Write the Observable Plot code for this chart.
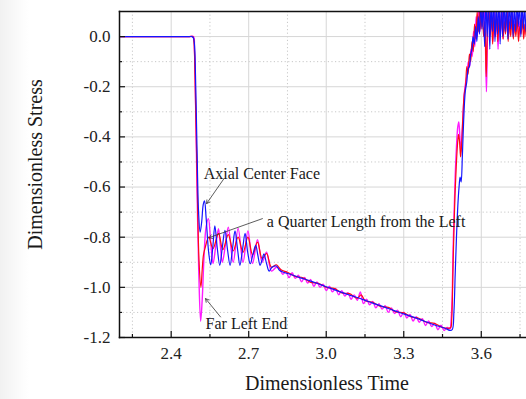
<!DOCTYPE html>
<html>
<head>
<meta charset="utf-8">
<script src="https://cdn.jsdelivr.net/npm/d3@7"></script>
<script src="https://cdn.jsdelivr.net/npm/@observablehq/plot@0.6"></script>
<style>
  html, body { margin: 0; padding: 0; }
  body { width: 526px; height: 399px; overflow: hidden;
    background: linear-gradient(to right, #f1f1f1 0px, #f6f6f6 10px, #fdfdfd 24px, #ffffff 30px); }
</style>
</head>
<body>
<div id="chart"></div>
<script>
// ---- tick values ----
const majorX = [2.4, 2.7, 3.0, 3.3, 3.6];
const minorX = [2.25, 2.55, 2.85, 3.15, 3.45, 3.75];
const majorY = [0, -0.2, -0.4, -0.6, -0.8, -1.0, -1.2];
const minorY = [-0.1, -0.3, -0.5, -0.7, -0.9, -1.1];

// ---- Axial Center Face (blue) ----
const blueT = [2.20, 2.40, 2.47, 2.48, 2.486, 2.490, 2.494, 2.500, 2.506, 2.512, 2.518, 2.524, 2.529, 2.535, 2.545, 2.553,
  2.561, 2.569, 2.578, 2.588, 2.598, 2.608, 2.618, 2.628, 2.638, 2.647, 2.657, 2.666, 2.676, 2.686, 2.696,
  2.706, 2.716, 2.727, 2.735, 2.744, 2.752, 2.759, 2.769, 2.779, 2.790, 2.807, 2.820, 2.860, 2.900, 2.940,
  2.980, 3.020, 3.060, 3.100, 3.140, 3.180, 3.220, 3.260, 3.300, 3.340, 3.380, 3.420, 3.460, 3.480, 3.488,
  3.494, 3.499, 3.504, 3.509, 3.514, 3.518, 3.522, 3.527, 3.532, 3.538, 3.544, 3.549, 3.554, 3.559, 3.564,
  3.568, 3.573, 3.578, 3.583, 3.588, 3.593, 3.598, 3.603, 3.608, 3.613, 3.618, 3.623, 3.628, 3.633, 3.638,
  3.643, 3.648, 3.653, 3.658, 3.663, 3.668, 3.673, 3.678, 3.683, 3.688, 3.693, 3.698, 3.703, 3.708, 3.713,
  3.718, 3.723, 3.728, 3.733, 3.738, 3.743, 3.748, 3.753, 3.758, 3.763, 3.768, 3.773, 3.778];
const blueV = [0, 0, 0, 0, -0.005, -0.03, -0.15, -0.45, -0.70, -0.78, -0.74, -0.67, -0.655, -0.72, -0.86, -0.91,
  -0.84, -0.755, -0.84, -0.912, -0.84, -0.773, -0.85, -0.912, -0.84, -0.775, -0.85, -0.912, -0.85, -0.785, -0.86,
  -0.906, -0.87, -0.833, -0.87, -0.912, -0.89, -0.866, -0.905, -0.935, -0.92, -0.915, -0.933, -0.948, -0.962, -0.975,
  -0.990, -1.005, -1.020, -1.034, -1.048, -1.063, -1.077, -1.092, -1.106, -1.120, -1.135, -1.150, -1.163, -1.172, -1.168,
  -1.10, -0.95, -0.80, -0.68, -0.60, -0.56, -0.58, -0.47, -0.33, -0.22, -0.18, -0.13, -0.12, -0.07, -0.05,
  0.0, -0.03, 0.04, -0.02, 0.08, 0.01, 0.13, 0.03, 0.14, -0.04, 0.14, 0.0, 0.15, -0.05, 0.14,
  0.02, 0.15, -0.02, 0.13, 0.01, 0.15, -0.03, 0.14, 0.0, 0.15, 0.02, 0.13, -0.01, 0.14, 0.03,
  0.15, 0.0, 0.12, 0.02, 0.15, 0.04, 0.13, 0.0, 0.14, 0.03, 0.12, 0.02, 0.11];

// ---- a Quarter Length from the Left (red) ----
const redT = [2.20, 2.40, 2.47, 2.484, 2.488, 2.492, 2.500, 2.508, 2.515, 2.520, 2.525, 2.532, 2.545, 2.562, 2.583, 2.600,
  2.621, 2.640, 2.659, 2.678, 2.697, 2.715, 2.734, 2.752, 2.769, 2.788, 2.807, 2.825, 2.850, 2.880, 2.910,
  2.940, 2.970, 3.000, 3.030, 3.060, 3.090, 3.120, 3.135, 3.150, 3.180, 3.210, 3.240, 3.270, 3.300, 3.330,
  3.360, 3.390, 3.420, 3.450, 3.475, 3.482, 3.486, 3.490, 3.494, 3.498, 3.503, 3.508, 3.512, 3.516, 3.520,
  3.524, 3.529, 3.534, 3.539, 3.544, 3.549, 3.554, 3.559, 3.564, 3.569, 3.574, 3.579, 3.584, 3.589, 3.594,
  3.599, 3.604, 3.609, 3.614, 3.619, 3.624, 3.629, 3.634, 3.639, 3.644, 3.649, 3.654, 3.659, 3.664, 3.669,
  3.674, 3.679, 3.684, 3.689, 3.694, 3.699, 3.704, 3.709, 3.714, 3.719, 3.724, 3.729, 3.734, 3.739, 3.744,
  3.749, 3.754, 3.759, 3.764, 3.769, 3.774, 3.778];
const redV = [0, 0, 0, 0, -0.02, -0.15, -0.55, -0.90, -1.0, -0.93, -0.87, -0.84, -0.80, -0.845, -0.785, -0.85,
  -0.79, -0.855, -0.80, -0.86, -0.80, -0.87, -0.82, -0.885, -0.865, -0.92, -0.91, -0.930, -0.940, -0.956, -0.962,
  -0.980, -0.984, -1.000, -1.004, -1.022, -1.025, -1.044, -1.030, -1.052, -1.060, -1.076, -1.080, -1.098, -1.102, -1.118,
  -1.124, -1.140, -1.144, -1.160, -1.163, -1.160, -1.12, -0.95, -0.78, -0.64, -0.52, -0.43, -0.39, -0.42, -0.48,
  -0.43, -0.32, -0.23, -0.20, -0.12, -0.15, -0.07, -0.10, -0.02, -0.06, 0.05, -0.01, 0.10, 0.02, 0.12,
  0.03, 0.10, 0.0, 0.06, -0.16, 0.04, 0.12, 0.0, 0.09, -0.03, 0.08, 0.0, 0.11, -0.02, 0.07,
  0.02, 0.10, -0.01, 0.06, 0.01, 0.12, -0.02, 0.06, 0.0, 0.09, -0.01, 0.05, 0.0, 0.08, -0.02,
  0.04, 0.01, 0.07, -0.01, 0.05, 0.0, 0.04];

// ---- Far Left End (magenta) ----
const magT = [2.20, 2.40, 2.47, 2.486, 2.490, 2.495, 2.500, 2.507, 2.514, 2.520, 2.527, 2.535, 2.544, 2.553, 2.562, 2.572,
  2.583, 2.590, 2.598, 2.610, 2.621, 2.640, 2.659, 2.678, 2.697, 2.715, 2.734, 2.752, 2.769, 2.788, 2.807,
  2.820, 2.832, 2.844, 2.856, 2.868, 2.880, 2.892, 2.904, 2.916, 2.928, 2.940, 2.952, 2.964, 2.976, 2.988,
  3.000, 3.012, 3.024, 3.036, 3.048, 3.060, 3.072, 3.084, 3.096, 3.108, 3.120, 3.132, 3.144, 3.156, 3.168,
  3.180, 3.192, 3.204, 3.216, 3.228, 3.240, 3.252, 3.264, 3.276, 3.288, 3.300, 3.312, 3.324, 3.336, 3.348,
  3.360, 3.372, 3.384, 3.396, 3.408, 3.420, 3.432, 3.444, 3.456, 3.468, 3.480, 3.482, 3.487, 3.491, 3.495,
  3.499, 3.504, 3.509, 3.513, 3.517, 3.521, 3.525, 3.530, 3.535, 3.540, 3.545, 3.550, 3.555, 3.560, 3.565,
  3.570, 3.575, 3.580, 3.585, 3.590, 3.595, 3.600, 3.605, 3.610, 3.615, 3.620, 3.625, 3.630, 3.635, 3.640,
  3.645, 3.650, 3.655, 3.660, 3.665, 3.670, 3.675, 3.680, 3.685, 3.690, 3.695, 3.700, 3.705, 3.710, 3.715,
  3.720, 3.725, 3.730, 3.735, 3.740, 3.745, 3.750, 3.755, 3.760, 3.765, 3.770, 3.775, 3.778];
const magV = [0, 0, 0, 0, -0.05, -0.30, -0.60, -0.95, -1.135, -1.05, -0.88, -0.76, -0.726, -0.82, -0.905, -0.84,
  -0.766, -0.83, -0.90, -0.83, -0.76, -0.90, -0.765, -0.90, -0.775, -0.905, -0.81, -0.90, -0.86, -0.935, -0.92,
  -0.926, -0.948, -0.937, -0.961, -0.942, -0.964, -0.952, -0.978, -0.961, -0.983, -0.969, -0.996, -0.978, -1.000, -0.987,
  -1.013, -0.995, -1.018, -1.004, -1.030, -1.013, -1.035, -1.021, -1.048, -1.030, -1.052, -1.018, -1.065, -1.047, -1.070,
  -1.056, -1.082, -1.065, -1.087, -1.073, -1.100, -1.082, -1.104, -1.091, -1.117, -1.099, -1.122, -1.108, -1.134, -1.117,
  -1.139, -1.125, -1.152, -1.134, -1.156, -1.143, -1.169, -1.151, -1.172, -1.160, -1.166, -1.15, -1.05, -0.85, -0.70,
  -0.56, -0.44, -0.36, -0.34, -0.40, -0.46, -0.40, -0.30, -0.22, -0.18, -0.15, -0.10, -0.12, -0.05, -0.08,
  0.02, -0.04, 0.08, 0.00, 0.12, 0.02, 0.10, 0.04, 0.12, 0.02, -0.22, 0.05, 0.14, 0.01, 0.10,
  -0.02, 0.12, 0.0, 0.08, -0.05, 0.10, 0.01, 0.13, -0.01, 0.09, 0.02, 0.12, 0.0, 0.07, 0.03,
  0.11, 0.01, 0.06, 0.02, 0.10, 0.0, 0.06, 0.03, 0.09, 0.01, 0.05, 0.02, 0.06];

// ---- annotations ----
const noteText = ["Axial Center Face", "a Quarter Length from the Left", "Far Left End"];
const noteX = [2.5256, 2.770, 2.533];
const noteY = [-0.546, -0.740, -1.147];
const arrowX1 = [2.604, 2.753, 2.591];
const arrowY1 = [-0.567, -0.726, -1.118];
const arrowX2 = [2.537, 2.546, 2.533];
const arrowY2 = [-0.666, -0.802, -1.045];

const toRows = (T, V) => T.map((t, i) => ({t, v: V[i]}));
const blue = toRows(blueT, blueV);
const red = toRows(redT, redV);
const mag = toRows(magT, magV);
const notes = noteText.map((s, i) => ({s, x: noteX[i], y: noteY[i]}));
const arrows = arrowX1.map((x1, i) => ({x1, y1: arrowY1[i], x2: arrowX2[i], y2: arrowY2[i]}));

const serif = "'Liberation Serif', 'Times New Roman', Times, serif";

const chart = Plot.plot({
  width: 526,
  height: 399,
  marginLeft: 119,
  marginRight: 0,
  marginTop: 11,
  marginBottom: 62,
  style: {background: "transparent", fontFamily: serif, color: "#222"},
  x: {domain: [2.2, 3.775]},
  y: {domain: [-1.2, 0.1]},
  marks: [
    Plot.ruleX(minorX, {stroke: "#c8c8c8", strokeDasharray: "1.2,2.4", strokeWidth: 1}),
    Plot.ruleY(minorY, {stroke: "#c8c8c8", strokeDasharray: "1.2,2.4", strokeWidth: 1}),
    Plot.ruleX(majorX, {stroke: "#d6d6d6", strokeWidth: 1}),
    Plot.ruleY(majorY, {stroke: "#d6d6d6", strokeWidth: 1}),
    Plot.line(mag, {x: "t", y: "v", stroke: "#ff1aff", strokeWidth: 1.4, curve: "catmull-rom", clip: true}),
    Plot.line(red, {x: "t", y: "v", stroke: "#ff0a14", strokeWidth: 1.2, curve: "catmull-rom", clip: true}),
    Plot.line(blue, {x: "t", y: "v", stroke: "#1414ff", strokeWidth: 1.2, curve: "catmull-rom", clip: true}),
    Plot.arrow(arrows, {x1: "x1", y1: "y1", x2: "x2", y2: "y2", stroke: "#333", strokeWidth: 0.8, headLength: 7, bend: 0}),
    Plot.text(notes, {x: "x", y: "y", text: "s", textAnchor: "start", fontSize: 16, fontFamily: serif, fill: "#1a1a1a"}),
    Plot.frame({anchor: "left", stroke: "#111", strokeWidth: 1.5}),
    Plot.frame({anchor: "bottom", stroke: "#111", strokeWidth: 1.5}),
    Plot.frame({anchor: "top", stroke: "#111", strokeWidth: 1.5}),
    Plot.axisX(majorX, {tickSize: -6, text: null, stroke: "#111", strokeWidth: 1.2}),
    Plot.axisX(minorX, {tickSize: -3, text: null, stroke: "#111", strokeWidth: 1.2}),
    Plot.axisY(majorY, {tickSize: -6, text: null, stroke: "#111", strokeWidth: 1.2}),
    Plot.axisY(minorY, {tickSize: -3, text: null, stroke: "#111", strokeWidth: 1.2}),
    Plot.axisX(majorX, {tickSize: 0, tickPadding: 9, tickFormat: d => d.toFixed(1), fontSize: 17, fontFamily: serif, label: null, fill: "#222"}),
    Plot.axisY(majorY, {tickSize: 0, tickPadding: 9, tickFormat: d => d.toFixed(1), fontSize: 17, fontFamily: serif, label: null, fill: "#222"}),
    Plot.text(["Dimensionless Time"], {frameAnchor: "bottom", dy: 46, dx: 4, lineAnchor: "middle", fontSize: 20, fontFamily: serif, fill: "#1a1a1a"}),
    Plot.text(["Dimensionless Stress"], {frameAnchor: "left", dx: -84, dy: -10, rotate: -90, textAnchor: "middle", lineAnchor: "middle", fontSize: 20, fontFamily: serif, fill: "#1a1a1a"})
  ]
});
document.getElementById("chart").appendChild(chart);
</script>
</body>
</html>
